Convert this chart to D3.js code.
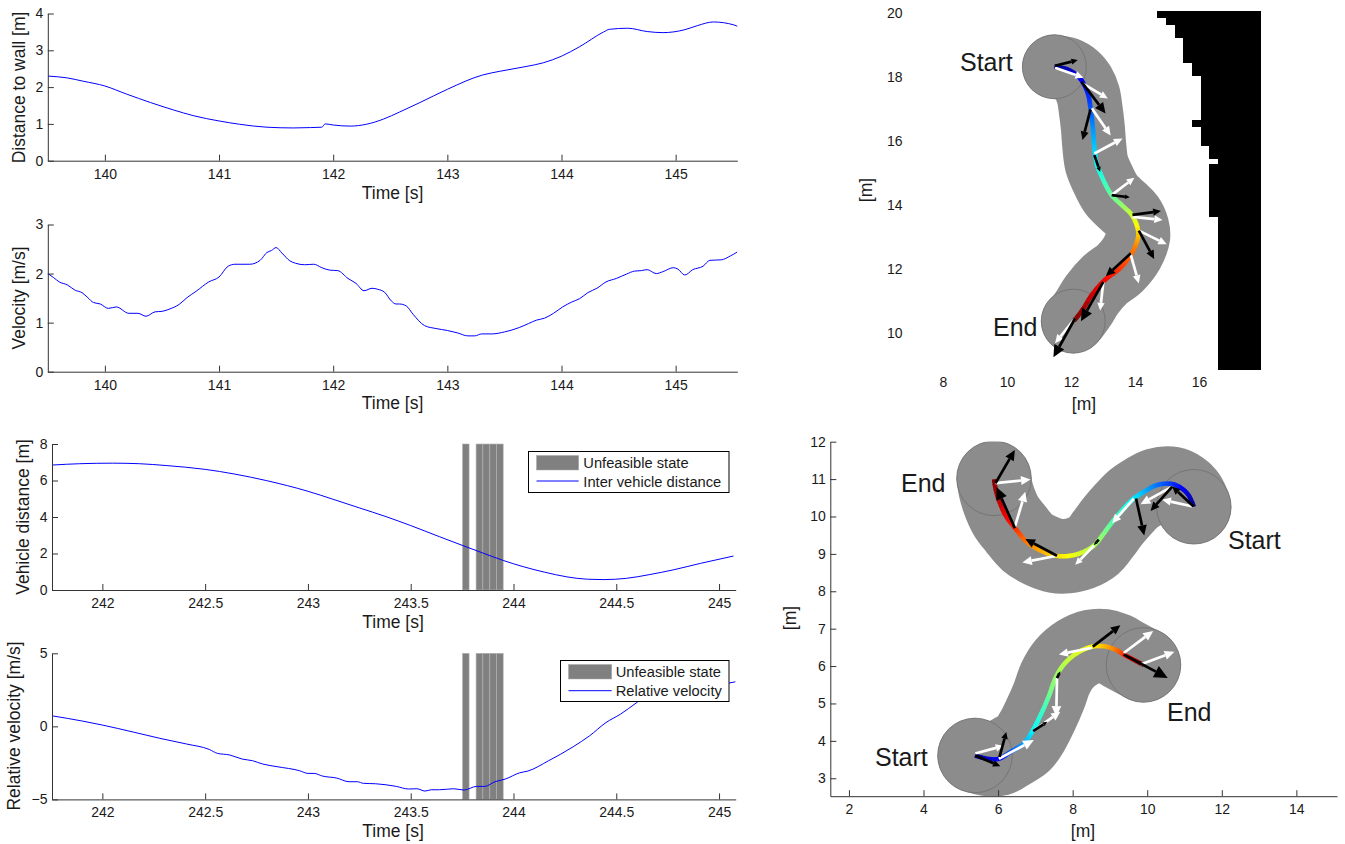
<!DOCTYPE html>
<html><head><meta charset="utf-8">
<script src="https://cdnjs.cloudflare.com/ajax/libs/d3/7.8.5/d3.min.js"></script>
<style>html,body{margin:0;padding:0;background:#fff}svg{display:block}text{font-family:"Liberation Sans",Arial,sans-serif;fill:#1a1a1a}</style>
</head><body><svg id="c" width="1345" height="844"></svg>
<script>
// ---- time series: [time, value]
const wallDistance = [[139.5,2.30],[139.67,2.25],[139.81,2.16],[140,2.03],[140.19,1.81],[140.4,1.58],[140.6,1.38],[140.78,1.22],[141,1.08],[141.18,0.99],[141.42,0.91],[141.65,0.89],[141.8,0.90],[141.9,0.91],[141.93,1.00],[142,0.97],[142.15,0.94],[142.29,0.99],[142.44,1.13],[142.58,1.32],[142.76,1.58],[143,1.94],[143.31,2.33],[143.46,2.43],[143.69,2.56],[143.84,2.66],[144,2.84],[144.16,3.10],[144.37,3.50],[144.42,3.57],[144.58,3.60],[144.75,3.51],[144.89,3.48],[145.08,3.56],[145.19,3.67],[145.33,3.77],[145.51,3.69],[145.55,3.64]];
const velocity = [[139.5,2.00],[139.55,1.92],[139.6,1.83],[139.67,1.77],[139.74,1.66],[139.8,1.61],[139.85,1.51],[139.9,1.41],[139.96,1.38],[140.03,1.29],[140.1,1.32],[140.21,1.19],[140.29,1.19],[140.36,1.13],[140.44,1.22],[140.5,1.23],[140.57,1.28],[140.65,1.37],[140.72,1.51],[140.8,1.64],[140.91,1.83],[141,1.93],[141.08,2.15],[141.14,2.19],[141.27,2.19],[141.36,2.27],[141.42,2.43],[141.46,2.47],[141.5,2.53],[141.55,2.42],[141.62,2.26],[141.67,2.21],[141.75,2.18],[141.83,2.19],[141.9,2.12],[141.97,2.07],[142.04,2.06],[142.13,1.90],[142.2,1.80],[142.27,1.65],[142.34,1.70],[142.39,1.68],[142.45,1.62],[142.51,1.44],[142.55,1.38],[142.58,1.38],[142.64,1.34],[142.7,1.17],[142.8,0.94],[142.9,0.88],[143,0.84],[143.09,0.79],[143.18,0.73],[143.24,0.73],[143.3,0.77],[143.39,0.77],[143.5,0.81],[143.63,0.90],[143.71,0.98],[143.78,1.05],[143.85,1.09],[143.93,1.19],[144.01,1.32],[144.09,1.42],[144.16,1.49],[144.23,1.61],[144.31,1.70],[144.39,1.83],[144.48,1.90],[144.57,1.99],[144.64,2.05],[144.7,2.06],[144.75,2.08],[144.83,2.00],[144.89,2.04],[144.98,2.12],[145.02,2.09],[145.08,1.97],[145.15,2.08],[145.24,2.15],[145.3,2.27],[145.4,2.28],[145.48,2.36],[145.54,2.44]];
const vehicleDistance = [[241.76,6.85],[241.89,6.92],[242.05,6.95],[242.18,6.92],[242.31,6.82],[242.5,6.61],[242.64,6.36],[242.8,5.99],[243,5.41],[243.12,4.98],[243.25,4.50],[243.38,4.02],[243.5,3.53],[243.64,2.92],[243.75,2.45],[243.85,2.03],[243.95,1.62],[244.05,1.27],[244.15,0.98],[244.26,0.72],[244.36,0.59],[244.44,0.57],[244.55,0.64],[244.66,0.84],[244.78,1.11],[244.91,1.46],[245.07,1.86]];
const relativeVelocity = [[241.76,0.71],[241.9,0.37],[242,0.09],[242.15,-0.39],[242.28,-0.82],[242.41,-1.21],[242.52,-1.58],[242.56,-1.85],[242.62,-1.96],[242.68,-2.24],[242.73,-2.35],[242.78,-2.58],[242.85,-2.76],[242.96,-3.04],[243,-3.22],[243.03,-3.22],[243.07,-3.40],[243.14,-3.54],[243.2,-3.79],[243.24,-3.79],[243.27,-3.90],[243.33,-3.93],[243.43,-4.11],[243.49,-4.29],[243.53,-4.27],[243.57,-4.43],[243.6,-4.34],[243.64,-4.34],[243.71,-4.27],[243.76,-4.36],[243.82,-4.11],[243.86,-4.11],[243.91,-3.79],[243.96,-3.61],[244.03,-3.18],[244.07,-3.06],[244.17,-2.36],[244.29,-1.40],[244.37,-0.65],[244.45,0.26],[244.52,0.83],[244.6,1.63],[244.65,2.13],[244.8,2.55],[245.05,2.97],[245.08,3.05]];
// ---- unfeasible intervals [start, end] in seconds
const unfeasible = [[243.752,243.784],[243.818,243.851],[243.851,243.885],[243.885,243.917],[243.917,243.950]];
// ---- trajectory A (upper map), metres
const pathA = [[11.48,18.32],[11.86,18.25],[12.18,18.06],[12.39,17.80],[12.54,17.44],[12.61,17.02],[12.68,16.45],[12.73,15.82],[12.80,15.30],[12.96,14.89],[13.27,14.31],[13.64,13.95],[13.90,13.69],[14.07,13.32],[14.10,13.01],[13.90,12.49],[13.53,12.02],[13.06,11.66],[12.65,11.19],[12.39,10.77],[12.16,10.46],[12.07,10.37]];
const colorKnotsA = [[0,0],[0.11,0.125],[0.375,0.375],[0.52,0.5],[0.62,0.625],[0.69,0.75],[0.84,0.875],[1,1]];
const blackA = [[11.50,18.35,12.21,18.53],[12.33,17.85,13.08,16.86],[12.61,16.99,12.36,16.03],[12.73,15.56,12.91,15.04],[13.27,14.31,13.84,14.24],[13.92,13.69,14.81,13.81],[14.12,13.20,14.60,12.31],[13.87,12.49,13.09,11.78],[13.01,11.60,12.31,10.37],[12.13,10.46,11.45,9.24]];
const whiteA = [[11.50,18.29,12.39,17.98],[12.36,17.80,13.15,17.33],[12.65,17.02,13.24,16.17],[12.73,15.61,13.61,16.08],[13.27,14.31,13.98,14.85],[13.92,13.63,14.86,13.53],[14.12,13.20,14.99,12.77],[13.86,12.47,14.12,11.55],[13.01,11.60,12.91,10.70],[12.13,10.46,11.50,9.68]];
// ---- wall cells [xLeft, yTop, yBottom], metres, right edge shared
const wallRight = 17.94;
const wallRows = [[14.69,20.06,19.89],[14.97,19.89,19.66],[15.25,19.66,19.25],[15.50,19.25,18.48],[15.78,18.48,18.06],[16.06,18.06,16.66],[15.78,16.66,16.47],[16.06,16.47,15.87],[16.31,15.87,15.47],[16.59,15.47,15.28],[16.31,15.28,13.66],[16.59,13.66,8.87]];
// ---- trajectory B (lower map, top)
const pathB = [[11.25,10.26],[11.11,10.57],[10.93,10.75],[10.67,10.87],[10.26,10.84],[9.91,10.66],[9.64,10.48],[9.37,10.21],[9.06,9.85],[8.83,9.54],[8.57,9.22],[8.21,9.02],[7.85,8.94],[7.54,8.95],[7.14,9.09],[6.78,9.31],[6.47,9.67],[6.20,10.03],[6.02,10.44],[5.93,10.75],[5.89,11.02]];
const colorKnotsB = [[0,0],[0.08,0.125],[0.28,0.375],[0.43,0.5],[0.59,0.625],[0.74,0.75],[0.85,0.875],[1,1]];
const blackB = [[11.25,10.26,10.67,10.80],[10.67,10.80,10.09,10.15],[9.70,10.48,9.92,9.49],[8.70,9.38,8.57,9.24],[7.58,8.95,6.73,9.40],[6.45,9.69,5.96,10.78],[5.93,10.89,6.45,11.78]];
const whiteB = [[11.25,10.26,10.40,10.45],[10.67,10.80,9.82,10.33],[9.64,10.48,9.06,9.82],[8.57,9.22,8.07,8.71],[7.58,8.95,6.65,8.77],[6.45,9.72,6.73,10.66],[5.93,10.89,6.87,10.99]];
// ---- trajectory C (lower map, bottom)
const pathC = [[5.38,3.61],[5.71,3.52],[6.02,3.52],[6.33,3.70],[6.69,3.93],[6.91,4.24],[7.14,4.69],[7.36,5.19],[7.54,5.68],[7.76,6.04],[8.12,6.35],[8.52,6.52],[8.84,6.53],[9.15,6.44],[9.37,6.31],[9.90,6.03]];
const colorKnotsC = [[0,0],[0.10,0.125],[0.30,0.375],[0.50,0.5],[0.76,0.625],[0.86,0.75],[0.93,0.875],[1,1]];
const blackC = [[5.39,3.61,6.06,3.32],[6.04,3.57,6.22,4.24],[6.94,4.26,7.32,4.51],[7.58,5.68,7.67,5.86],[8.54,6.52,9.28,7.09],[9.37,6.31,10.55,5.68]];
const whiteC = [[5.39,3.66,6.15,3.87],[6.02,3.52,6.96,4.02],[6.94,4.26,7.67,4.78],[7.58,5.68,7.56,4.65],[8.52,6.49,7.63,6.31],[9.37,6.35,10.16,6.94],[9.82,6.04,10.73,6.38]];
// ---- tick values
const ticksTimeA = [140,141,142,143,144,145];
const ticksTimeB = [242,242.5,243,243.5,244,244.5,245];

const svg = d3.select("#c");
const fmt = d3.format("~g");
const AX = "#333";
let clipN = 0;

function axisBox(o){
  const g = svg.append("g");
  const x = d3.scaleLinear().domain(o.xd).range(o.xr);
  const y = d3.scaleLinear().domain(o.yd).range(o.yr);
  const id = "clip"+(clipN++);
  svg.append("clipPath").attr("id",id).append("rect")
    .attr("x",o.xr[0]).attr("y",o.yr[1]).attr("width",o.xr[1]-o.xr[0]).attr("height",o.yr[0]-o.yr[1]);
  return {g,x,y,id};
}
function drawAxes(b,o){
  const ax = d3.axisBottom(b.x).tickValues(o.xt).tickFormat(fmt).tickSizeInner(-6).tickSizeOuter(0).tickPadding(o.xpad||8);
  const ay = d3.axisLeft(b.y).tickValues(o.yt).tickFormat(fmt).tickSizeInner(-6).tickSizeOuter(0).tickPadding(o.ypad||4.5);
  const gx = svg.append("g").attr("transform",`translate(0,${o.yr[0]})`).call(ax);
  const gy = svg.append("g").attr("transform",`translate(${o.xr[0]},0)`).call(ay);
  [gx,gy].forEach(s=>{
    s.attr("font-size",14).attr("font-family",null);
    s.selectAll("path,line").attr("stroke",AX).attr("stroke-width",1);
    s.selectAll("text").attr("fill","#1a1a1a");
  });
  if(o.xlabel) svg.append("text").attr("x",o.xlabel[1]).attr("y",o.xlabel[2]).attr("text-anchor","middle").attr("font-size",17.5).text(o.xlabel[0]);
  if(o.ylabel) svg.append("text").attr("transform",`translate(${o.ylabel[1]},${o.ylabel[2]}) rotate(-90)`).attr("text-anchor","middle").attr("font-size",17.5).text(o.ylabel[0]);
}
function series(o,data,bars){
  const b = axisBox(o);
  if(bars){
    b.g.selectAll("rect").data(bars).join("rect")
      .attr("x",d=>b.x(d[0])).attr("width",d=>b.x(d[1])-b.x(d[0]))
      .attr("y",o.yr[1]).attr("height",o.yr[0]-o.yr[1])
      .attr("fill","#808080").attr("stroke","#b4b4b4").attr("stroke-width",0.6);
  }
  b.g.append("path").datum(data).attr("clip-path",`url(#${b.id})`)
    .attr("fill","none").attr("stroke","#0000ff").attr("stroke-width",1).attr("stroke-linejoin","round")
    .attr("d",d3.line().x(d=>b.x(d[0])).y(d=>b.y(d[1])).curve(d3.curveMonotoneX));
  drawAxes(b,o);
  return b;
}
function legend(l){
  const g = svg.append("g");
  g.append("rect").attr("x",l.x0).attr("y",l.y0).attr("width",l.x1-l.x0).attr("height",l.y1-l.y0)
    .attr("fill","#fff").attr("stroke","#000").attr("stroke-width",1);
  g.append("rect").attr("x",l.px0).attr("y",l.y0+4).attr("width",l.px1-l.px0).attr("height",14.5)
    .attr("fill","#808080").attr("stroke","#aaa").attr("stroke-width",0.5);
  g.append("line").attr("x1",l.px0).attr("x2",l.px1).attr("y1",l.ly).attr("y2",l.ly).attr("stroke","#0000ff");
  g.append("text").attr("x",l.tx).attr("y",l.t1).attr("font-size",14.7).text("Unfeasible state");
  g.append("text").attr("x",l.tx).attr("y",l.t2).attr("font-size",14.7).text(l.label);
}

// time-series panels
series({xd:[139.5,145.54],xr:[47.8,737.3],yd:[0,4],yr:[160.7,13.5],xt:ticksTimeA,yt:[0,1,2,3,4],
  xlabel:["Time [s]",392.5,199],ylabel:["Distance to wall [m]",24.5,87.5]},wallDistance);
series({xd:[139.5,145.54],xr:[47.8,737.3],yd:[0,3],yr:[371.7,224.5],xt:ticksTimeA,yt:[0,1,2,3],
  xlabel:["Time [s]",392.5,409],ylabel:["Velocity [m/s]",24.5,298]},velocity);
series({xd:[241.755,245.081],xr:[52,735.7],yd:[0,8],yr:[590,444],xt:ticksTimeB,yt:[0,2,4,6,8],
  xlabel:["Time [s]",393,627.5],ylabel:["Vehicle distance [m]",28.5,517]},vehicleDistance,unfeasible);
series({xd:[241.755,245.081],xr:[52,735.7],yd:[-5,5],yr:[799.4,653.3],xt:ticksTimeB,yt:[-5,0,5],
  xlabel:["Time [s]",393,837],ylabel:["Relative velocity [m/s]",20,726]},relativeVelocity,unfeasible);
legend({x0:528.5,x1:729,y0:451.5,y1:492.5,px0:536.5,px1:578.7,ly:481,tx:583.3,t1:467.5,t2:486.5,label:"Inter vehicle distance"});
legend({x0:560.5,x1:729,y0:660.5,y1:701.5,px0:568.5,px1:611.7,ly:690.7,tx:615.7,t1:676.5,t2:695.5,label:"Relative velocity"});

// jet colormap
const jetStops = [[0,"#00008f"],[0.125,"#0000ff"],[0.375,"#00ffff"],[0.625,"#ffff00"],[0.875,"#ff0000"],[1,"#800000"]];
const jet = d3.scaleLinear().domain(jetStops.map(d=>d[0])).range(jetStops.map(d=>d[1])).interpolate(d3.interpolateRgb);
const lineGen = (x,y)=>d3.line().x(d=>x(d[0])).y(d=>y(d[1])).curve(d3.curveCatmullRom.alpha(0.5));

function trajectoryBand(layer,b,path){
  const r = Math.abs(b.x(1)-b.x(0));
  layer.append("path").datum(path).attr("fill","none").attr("stroke","#8c8c8c")
    .attr("stroke-width",2*r).attr("stroke-linecap","round").attr("stroke-linejoin","round")
    .attr("d",lineGen(b.x,b.y));
  [path[0],path[path.length-1]].forEach(p=>{
    layer.append("circle").attr("cx",b.x(p[0])).attr("cy",b.y(p[1])).attr("r",r)
      .attr("fill","#8c8c8c").attr("stroke","#707070").attr("stroke-width",0.8);
  });
}
function trajectoryDetail(layer,b,path,knots,white,black){
  const hidden = layer.append("path").datum(path).attr("fill","none").attr("d",lineGen(b.x,b.y));
  const node = hidden.node(), L = node.getTotalLength(), step = 1.5;
  const n = Math.floor(L/step);
  const toJet = d3.scaleLinear().domain(knots.map(d=>d[0])).range(knots.map(d=>d[1]));
  d3.range(n).forEach(i=>{
    const p0 = node.getPointAtLength(i*step), p1 = node.getPointAtLength(Math.min(L,(i+1)*step+0.4));
    layer.append("line").attr("x1",p0.x).attr("y1",p0.y).attr("x2",p1.x).attr("y2",p1.y)
      .attr("stroke",jet(toJet(i/(n-1)))).attr("stroke-width",4.5);
  });
  hidden.remove();
  const arrow = (d,c)=>{
    const x0=b.x(d[0]),y0=b.y(d[1]),x1=b.x(d[2]),y1=b.y(d[3]);
    const len=Math.hypot(x1-x0,y1-y0),ux=(x1-x0)/len,uy=(y1-y0)/len,h=Math.max(3.5,len*0.27),w=h*0.47;
    const bx=x1-ux*h,by=y1-uy*h;
    layer.append("line").attr("x1",x0).attr("y1",y0).attr("x2",bx).attr("y2",by)
      .attr("stroke",c).attr("stroke-width",2.7);
    layer.append("polygon").attr("fill",c)
      .attr("points",[[x1,y1],[bx-uy*w,by+ux*w],[bx+uy*w,by-ux*w]].map(p=>p.join(",")).join(" "));
  };
  white.forEach(d=>arrow(d,"#ffffff"));
  black.forEach(d=>arrow(d,"#000000"));
}
function bigText(t,x,y){svg.append("text").attr("x",x).attr("y",y).attr("font-size",25).attr("fill","#111").text(t);}

// upper map (no axis lines, labels only)
const oA = {xd:[7.5,18],xr:[927,1263],yd:[8.75,20],yr:[373,13],xt:[8,10,12,14,16],yt:[10,12,14,16,18,20]};
const bA = axisBox(oA);
bA.g.selectAll("rect.w").data(wallRows).join("rect").attr("class","w")
  .attr("x",d=>bA.x(d[0])).attr("width",d=>bA.x(wallRight)-bA.x(d[0]))
  .attr("y",d=>bA.y(d[1])).attr("height",d=>bA.y(d[2])-bA.y(d[1])+1).attr("fill","#000").attr("shape-rendering","crispEdges");
trajectoryBand(bA.g,bA,pathA);
trajectoryDetail(bA.g,bA,pathA,colorKnotsA,whiteA,blackA);
const gAx = svg.append("g").attr("transform","translate(0,377)").call(d3.axisBottom(bA.x).tickValues(oA.xt).tickFormat(fmt).tickSize(0).tickPadding(0));
const gAy = svg.append("g").attr("transform","translate(902.5,0.5)").call(d3.axisLeft(bA.y).tickValues(oA.yt).tickFormat(fmt).tickSize(0).tickPadding(0));
[gAx,gAy].forEach(s=>{s.attr("font-size",14).attr("font-family",null);s.select(".domain").remove();s.selectAll("line").remove();s.selectAll("text").attr("fill","#1a1a1a");});
svg.append("text").attr("x",1084).attr("y",410).attr("text-anchor","middle").attr("font-size",17.5).text("[m]");
svg.append("text").attr("transform","translate(872,190) rotate(-90)").attr("text-anchor","middle").attr("font-size",17.5).text("[m]");
bigText("Start",960,70.5);
bigText("End",993,335.5);

// lower map
const oB = {xd:[1.5,15.09],xr:[830.3,1337],yd:[2.52,12],yr:[796.2,441.7],xt:[2,4,6,8,10,12,14],yt:[3,4,5,6,7,8,9,10,11,12],
  xlabel:["[m]",1083,836.5],ylabel:["[m]",796,618]};
const bB = axisBox(oB);
const bandLayer = bB.g.append("g").attr("clip-path",`url(#${bB.id})`);
trajectoryBand(bandLayer,bB,pathB);
trajectoryBand(bandLayer,bB,pathC);
trajectoryDetail(bandLayer,bB,pathB,colorKnotsB,whiteB,blackB);
trajectoryDetail(bandLayer,bB,pathC,colorKnotsC,whiteC,blackC);
drawAxes(bB,oB);
bigText("End",901,491.5);
bigText("Start",1228,549);
bigText("Start",875,766);
bigText("End",1167,720.5);
</script></body></html>
